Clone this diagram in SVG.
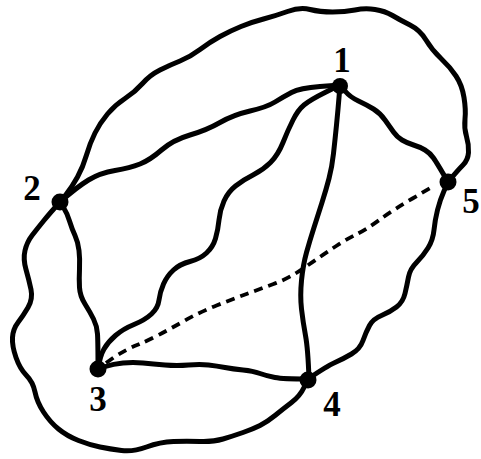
<svg xmlns="http://www.w3.org/2000/svg" width="481" height="459" viewBox="0 0 481 459">
<style>
.e{fill:none;stroke:#000;stroke-width:5;stroke-linecap:round;stroke-linejoin:round}
.d{fill:none;stroke:#000;stroke-width:3.8;stroke-dasharray:9 6}
.n{fill:#000}
.l{font-family:"Liberation Serif",serif;font-weight:bold;font-size:35px;text-anchor:middle;fill:#000}
</style>
<rect width="481" height="459" fill="#fff"/>
<g id="connectors">
<path id="boundary" class="e" d="M60,202 L66,194.5 Q72,187 77.5,177 Q83,167 86.5,155 Q90,143 95,133 Q100,123 107.5,114 Q115,105 125,98.5 Q135,92 142.5,83.5 Q150,75 160,70 Q170,65 180,61 Q190,57 200,49.5 Q210,42 220,36.5 Q230,31 241,26.5 Q252,22 263.5,19 Q275,16 287.5,11.5 Q300,7 310,9.5 Q320,12 332.5,12 Q345,12 355,10 Q365,8 375,9.5 Q385,11 392.5,15.5 Q400,20 410,25 Q420,30 426,40 Q432,50 441,58.5 Q450,67 456,76 Q462,85 464,97.5 Q466,110 465,119 Q464,128 466.5,136.5 Q469,145 468.5,152.5 Q468,160 463,165 Q458,170 448,182 L444,191 Q440,200 437.5,210 Q435,220 434,230 Q433,240 428,248 Q423,256 416.5,262.5 Q410,269 408.5,277 Q407,285 405,293.5 Q403,302 396.5,307 Q390,312 381.5,315.5 Q373,319 369.5,325.5 Q366,332 363,340.5 Q360,349 351.5,354 Q343,359 335,362.5 Q327,366 308,379 L304,387.5 Q300,396 291.5,402.5 Q283,409 275,415.5 Q267,422 260,425.5 Q253,429 243,432.5 Q233,436 223,439 Q213,442 200,441.5 Q187,441 173.5,441.5 Q160,442 146.5,447 Q133,452 121.5,450.5 Q110,449 100,447 Q90,445 78.5,440.5 Q67,436 58.5,429 Q50,422 43.5,412 Q37,402 35,392 Q33,382 26.5,375.5 Q20,369 16,357.5 Q12,346 12.5,337.5 Q13,329 18,322.5 Q23,316 28,307.5 Q33,299 31,289.5 Q29,280 26,269.5 Q23,259 25,250.5 Q27,242 32,235.5 Q37,229 43.5,221 Q50,213 60,202 Z"/>
<path id="e12" class="e" d="M340,85 L320,86.5 Q300,88 291.5,92.5 Q283,97 275,102 Q267,107 250,111 Q233,115 220,122.5 Q207,130 190,135 Q173,140 161.5,150 Q150,160 140,164 Q130,168 115,170.5 Q100,173 88.5,180 Q77,187 60,202"/>
<path id="e13" class="e" d="M340,85 L325,92.5 Q310,100 304,105 Q298,110 293,120 Q288,130 283,142.5 Q278,155 270.5,162.5 Q263,170 253,175 Q243,180 235.5,186 Q228,192 224,201 Q220,210 219,220 Q218,230 215.5,238.5 Q213,247 206.5,253 Q200,259 190,261.5 Q180,264 173.5,270 Q167,276 163.5,284 Q160,292 159,300 Q158,308 151.5,314 Q145,320 134,324.5 Q123,329 115.5,335.5 Q108,342 104,349 Q100,356 98,369"/>
<path id="e14" class="e" d="M340,85 L339,97.5 Q338,110 336.5,125 Q335,140 333.5,153.5 Q332,167 329,178.5 Q326,190 322,202.5 Q318,215 314,227.5 Q310,240 306.5,252.5 Q303,265 301.5,280.5 Q300,296 301.5,309 Q303,322 305.5,335.5 Q308,349 309,379"/>
<path id="e15" class="e" d="M340,85 L345,91 Q350,97 358.5,101 Q367,105 373.5,109 Q380,113 385,120 Q390,127 393.5,132 Q397,137 402,140 Q407,143 413.5,145 Q420,147 425,150 Q430,153 433.5,158 Q437,163 448,182"/>
<path id="e23" class="e" d="M60,202 L63.5,207.5 Q67,213 69.5,221 Q72,229 75,235.5 Q78,242 79,250.5 Q80,259 79.5,269 Q79,279 79.5,287.5 Q80,296 85,304 Q90,312 93.5,319 Q97,326 97.5,334 Q98,342 98,369"/>
<path id="e34" class="e" d="M98,369 L105.5,366.5 Q113,364 123,363 Q133,362 143,363 Q153,364 165,365 Q177,366 188.5,365 Q200,364 208.5,365 Q217,366 225,367.5 Q233,369 243,370 Q253,371 260,373.5 Q267,376 275,377.5 Q283,379 308,379"/>
<path id="e35" class="d" d="M106,363 L114.5,357 Q127,349 137,345 Q147,341 158.5,335 Q170,329 185,320.5 Q200,312 216.5,305.5 Q233,299 246.5,294 Q260,289 273.5,284 Q287,279 297,272.5 Q307,266 317,259 Q327,252 337,245.5 Q347,239 357,234 Q367,229 380,219.5 Q393,210 412.5,198.5 L432,187"/>
</g>
<g id="node1"><circle class="n" cx="340" cy="86" r="8"/><text class="l" x="342" y="72">1</text></g>
<g id="node2"><circle class="n" cx="60" cy="202" r="8.5"/><text class="l" x="32" y="200">2</text></g>
<g id="node3"><circle class="n" cx="98" cy="369" r="8.5"/><text class="l" x="98" y="411">3</text></g>
<g id="node4"><circle class="n" cx="308" cy="380" r="8.5"/><text class="l" x="332" y="416">4</text></g>
<g id="node5"><circle class="n" cx="448" cy="182" r="8.5"/><text class="l" x="471" y="213">5</text></g>
</svg>
